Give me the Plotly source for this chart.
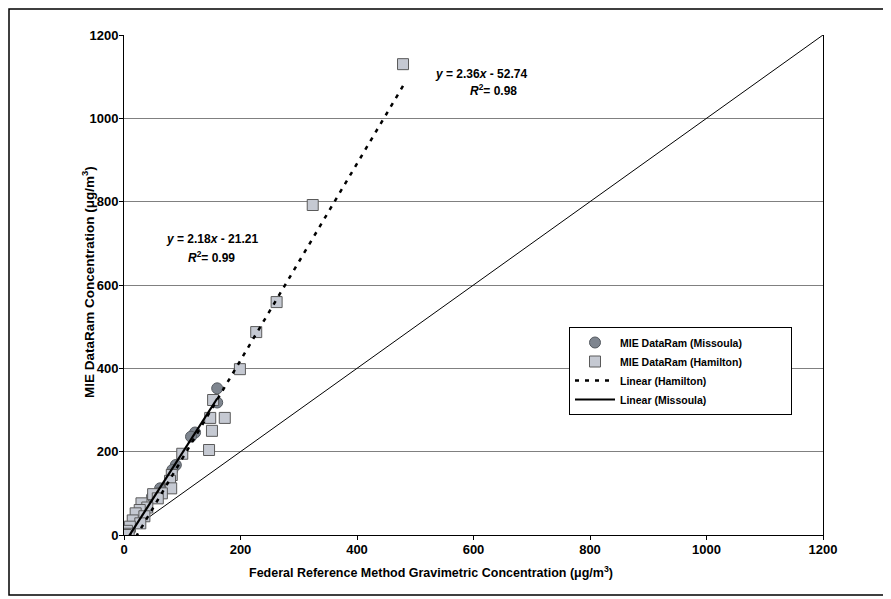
import plotly.graph_objects as go

# ---- data ----
missoula_x = [160, 160, 122, 115, 89, 83, 62, 48, 35, 25, 18, 10, 6]
missoula_y = [352, 318, 246, 236, 168, 156, 112, 92, 62, 42, 30, 12, 6]

hamilton_x = [479, 324, 262, 227, 199, 153, 148, 173, 151, 146, 100, 82, 79, 81,
              65, 50, 58, 30, 40, 27, 20, 35, 15, 28, 10, 5, 8, 3]
hamilton_y = [1130, 792, 559, 487, 398, 324, 281, 281, 250, 204, 195, 144, 130, 112,
              100, 98, 88, 76, 66, 60, 52, 45, 35, 28, 20, 10, 3, 0]

# regression coefficients printed on the chart
ham_slope, ham_icpt, ham_r2 = 2.36, -52.74, 0.98
mis_slope, mis_icpt, mis_r2 = 2.18, -21.21, 0.99

ticks = [0, 200, 400, 600, 800, 1000, 1200]

FONT = "Liberation Sans, Arial, sans-serif"

# screen geometry (page body has an 8px margin)
OFF = 8
PL, PR, PT, PB = 124, 823, 35, 535
PW, PH = PR - PL, PB - PT


def px(sx):
    return (sx - PL) / PW


def py(sy):
    return (PB - sy) / PH


PAD = "\u00a0" * 15  # widens the legend box like the reference

fig = go.Figure()

# 1:1 line
fig.add_trace(go.Scatter(x=[0, 1200], y=[0, 1200], mode="lines",
                         line=dict(color="black", width=1), showlegend=False,
                         hoverinfo="skip"))

hx = [min(hamilton_x), max(hamilton_x)]
mx = [min(missoula_x), max(missoula_x)]

fig.add_trace(go.Scatter(x=missoula_x, y=missoula_y, mode="markers",
                         name="MIE DataRam (Missoula)",
                         marker=dict(symbol="circle", size=11, color="#7e858f",
                                     line=dict(color="#555a60", width=1))))
fig.add_trace(go.Scatter(x=hamilton_x, y=hamilton_y, mode="markers",
                         name="MIE DataRam (Hamilton)" + PAD,
                         marker=dict(symbol="square", size=11, color="#c5c9d2",
                                     line=dict(color="#5a5a5a", width=1))))
fig.add_trace(go.Scatter(x=hx, y=[ham_slope * v + ham_icpt for v in hx], mode="lines",
                         name="Linear (Hamilton)",
                         line=dict(color="black", width=2.5, dash="4px,6px")))
fig.add_trace(go.Scatter(x=mx, y=[mis_slope * v + mis_icpt for v in mx], mode="lines",
                         name="Linear (Missoula)",
                         line=dict(color="black", width=2.2)))

axis_common = dict(range=[0, 1200], tickvals=ticks, ticks="outside", ticklen=4,
                   tickcolor="black", linecolor="black", linewidth=1,
                   showline=True, zeroline=False, ticklabelstandoff=-2,
                   tickfont=dict(family=FONT, size=13, color="black", weight="bold"))

fig.update_xaxes(**axis_common, showgrid=False, mirror=False)
fig.update_yaxes(**axis_common, showgrid=True, gridcolor="#808080", gridwidth=1,
                 mirror=True)

TF = dict(family=FONT, size=12, color="black", weight="bold")
C = dict(xref="paper", yref="paper", showarrow=False, xanchor="center", yanchor="middle")
annotations = [
    dict(**C, x=px(481), y=py(74),
         text=f"<i>y</i> = {ham_slope}<i>x</i> - {abs(ham_icpt)}", font=TF),
    dict(**C, x=px(493), y=py(90),
         text=f"<i>R</i><sup>2</sup>= {ham_r2}", font=TF),
    dict(**C, x=px(212), y=py(239),
         text=f"<i>y</i> = {mis_slope}<i>x</i> - {abs(mis_icpt)}", font=TF),
    dict(**C, x=px(211), y=py(257),
         text=f"<i>R</i><sup>2</sup>= {mis_r2}", font=TF),
    dict(**C, x=px(431), y=py(572),
         text="Federal Reference Method Gravimetric Concentration (μg/m<sup>3</sup>)",
         font=dict(family=FONT, size=12.5, color="black", weight="bold")),
    dict(**C, x=px(88), y=py(282), textangle=-90,
         text="MIE DataRam Concentration (μg/m<sup>3</sup>)",
         font=dict(family=FONT, size=13.5, color="black", weight="bold")),
]

shapes = [
    dict(type="rect", xref="paper", yref="paper",
         x0=px(9), x1=px(884), y0=py(595), y1=py(9),
         line=dict(color="black", width=1.5), fillcolor="rgba(0,0,0,0)", layer="below"),
]

W, H = 891 - OFF, 599 - OFF
fig.update_layout(
    width=W, height=H,
    margin=dict(l=PL - OFF, r=W - (PR - OFF), t=PT - OFF, b=H - (PB - OFF)),
    paper_bgcolor="white", plot_bgcolor="white",
    font=dict(family=FONT, color="black"),
    legend=dict(x=px(569), y=py(327), xanchor="left", yanchor="top",
                bgcolor="white", bordercolor="black", borderwidth=1,
                font=dict(family=FONT, size=10.5, color="black", weight="bold"),
                tracegroupgap=0, itemwidth=40),
    annotations=annotations,
    shapes=shapes,
)

fig.write_html("out.html")
